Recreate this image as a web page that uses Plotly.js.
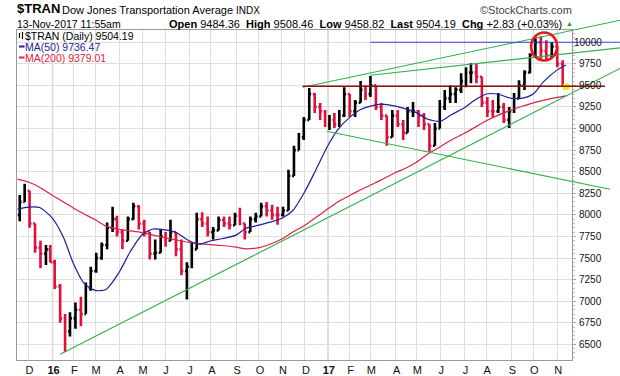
<!DOCTYPE html>
<html><head><meta charset="utf-8">
<script src="https://cdn.plot.ly/plotly-3.0.1.min.js"></script>
<style>html,body{margin:0;padding:0;background:#fff;}#chart{width:620px;height:376px;}</style>
</head><body><div id="chart"></div>
<script>
// ---------------- DATA ----------------
const weekDates = ['2015-11-18','2015-11-25','2015-12-02','2015-12-09','2015-12-16','2015-12-23','2015-12-30',
'2016-01-06','2016-01-13','2016-01-20','2016-01-27','2016-02-03','2016-02-10','2016-02-17','2016-02-24',
'2016-03-02','2016-03-09','2016-03-16','2016-03-23','2016-03-30','2016-04-06','2016-04-13','2016-04-20','2016-04-27',
'2016-05-04','2016-05-11','2016-05-18','2016-05-25','2016-06-01','2016-06-08','2016-06-15','2016-06-22','2016-06-29',
'2016-07-06','2016-07-13','2016-07-20','2016-07-27','2016-08-03','2016-08-10','2016-08-17','2016-08-24','2016-08-31',
'2016-09-07','2016-09-14','2016-09-21','2016-09-28','2016-10-05','2016-10-12','2016-10-19','2016-10-26',
'2016-11-02','2016-11-09','2016-11-16','2016-11-23','2016-11-30','2016-12-07','2016-12-14','2016-12-21','2016-12-28',
'2017-01-04','2017-01-11','2017-01-18','2017-01-25','2017-02-01','2017-02-08','2017-02-15','2017-02-22',
'2017-03-01','2017-03-08','2017-03-15','2017-03-22','2017-03-29','2017-04-05','2017-04-12','2017-04-19','2017-04-26',
'2017-05-03','2017-05-10','2017-05-17','2017-05-24','2017-05-31','2017-06-07','2017-06-14','2017-06-21','2017-06-28',
'2017-07-05','2017-07-12','2017-07-19','2017-07-26','2017-08-02','2017-08-09','2017-08-16','2017-08-23','2017-08-30',
'2017-09-06','2017-09-13','2017-09-20','2017-09-27','2017-10-04','2017-10-11','2017-10-18','2017-10-25',
'2017-11-01','2017-11-08','2017-11-13'];
const weekOpen = [8000,8150,8280,7900,7620,7550,7600,
7450,7170,6800,6650,6800,6900,6850,7150,
7350,7500,7650,7850,7950,7800,7700,7950,8100,
7900,7800,7550,7560,7750,7700,7800,7600,7350,
7400,7600,7950,7900,7800,7820,7940,7900,7880,
7990,7900,7800,7950,7980,8100,8050,8000,
8000,8050,8450,8750,8900,9100,9400,9250,9200,
9050,9100,9050,9150,9400,9200,9300,9450,
9400,9500,9250,9150,8900,9150,9050,8950,9200,
9200,9150,9050,8800,9000,9250,9350,9400,9450,
9550,9650,9650,9600,9300,9200,9200,9250,9100,
9200,9350,9500,9650,9850,10000,9900,9850,
9950,9750,9484.36];
const weekHigh = [8230,8360,8280,7900,7700,7650,7650,
7480,7200,6850,6870,6985,7050,7215,7400,
7560,7680,7910,8095,7990,7830,7980,8140,8110,
7944,7800,7713,7830,7800,7944,7800,7713,7450,
7680,8025,8030,7980,7860,7980,7980,7980,8025,
8083,7900,7980,8025,8140,8150,8117,8095,
8095,8522,8800,8949,9134,9470,9411,9295,9215,
9157,9180,9215,9480,9400,9330,9550,9500,
9610,9500,9295,9150,9215,9215,9099,9250,9307,
9215,9180,9050,9064,9330,9446,9500,9480,9640,
9711,9757,9760,9600,9365,9330,9411,9295,9250,
9411,9561,9677,9873,10058,10070,10023,10000,
9950,9792,9508.46];
const weekLow = [7925,8150,7850,7560,7380,7420,7450,
7140,6750,6410,6590,6680,6710,6850,7120,
7330,7480,7600,7800,7750,7600,7700,7944,7830,
7750,7482,7482,7560,7630,7700,7520,7300,7020,
7380,7600,7860,7750,7713,7820,7860,7830,7880,
7880,7713,7800,7910,7980,7980,7944,7886,
7980,8050,8450,8750,8868,9100,9180,9099,9018,
8984,9006,9018,9134,9134,9134,9300,9330,
9365,9215,9099,8800,8900,9018,8868,8950,9134,
9018,8984,8730,8800,9000,9215,9295,9295,9411,
9480,9526,9526,9250,9134,9134,9180,9064,9006,
9180,9350,9446,9640,9827,9792,9792,9827,
9711,9490,9458.82];
const weekClose = [8150,8280,7900,7620,7550,7600,7450,
7170,6800,6650,6800,6900,6850,7150,7350,
7500,7650,7850,7950,7800,7700,7950,8100,7900,
7800,7550,7560,7750,7700,7800,7600,7350,7400,
7600,7950,7900,7800,7820,7940,7900,7880,7990,
7900,7800,7950,7980,8100,8050,8000,8000,
8050,8450,8750,8900,9100,9400,9250,9200,9050,
9100,9050,9150,9400,9200,9300,9450,9400,
9500,9250,9150,8900,9150,9050,8950,9200,9200,
9150,9050,8800,9000,9250,9350,9400,9450,9550,
9650,9650,9600,9300,9200,9200,9250,9100,9200,
9350,9500,9650,9850,10000,9900,9850,9950,
9750,9501.36,9504.19];

const maDates = ['2015-11-16','2015-12-01','2015-12-15','2016-01-04','2016-01-19','2016-02-01','2016-02-16','2016-03-01','2016-03-15','2016-04-01','2016-04-15','2016-05-02','2016-05-16','2016-06-01','2016-06-15','2016-07-01','2016-07-15','2016-08-01','2016-08-15','2016-09-01','2016-09-15','2016-10-03','2016-10-17','2016-11-01','2016-11-15','2016-12-01','2016-12-15','2017-01-03','2017-01-17','2017-02-01','2017-02-15','2017-03-01','2017-03-15','2017-04-03','2017-04-18','2017-05-01','2017-05-15','2017-06-01','2017-06-15','2017-07-03','2017-07-17','2017-08-01','2017-08-15','2017-09-01','2017-09-15','2017-10-02','2017-10-16','2017-11-01','2017-11-13'];
const ma50 = [8067,8090,8085,7960,7740,7440,7205,7124,7135,7335,7570,7770,7836,7825,7795,7700,7660,7700,7723,7765,7845,7880,7915,7960,8050,8270,8520,8800,8985,9130,9220,9260,9284,9260,9225,9185,9110,9085,9160,9240,9325,9400,9400,9350,9350,9400,9550,9680,9736.47];
const ma200 = [8414,8380,8320,8225,8150,8080,8010,7944,7870,7832,7815,7795,7765,7735,7710,7680,7665,7655,7645,7625,7605,7620,7660,7720,7800,7880,7970,8070,8150,8225,8290,8345,8405,8490,8545,8610,8700,8790,8868,8945,9010,9090,9150,9215,9255,9298,9330,9362,9379.01];

const holidays = ['2015-11-26','2015-12-25','2016-01-01','2016-01-18','2016-02-15','2016-03-25','2016-05-30','2016-07-04','2016-09-05','2016-11-24','2016-12-26','2017-01-02','2017-01-16','2017-02-20','2017-04-14','2017-05-29','2017-07-04','2017-09-04'];
const monthTickDates = ['2015-12-01','2016-01-04','2016-02-01','2016-03-01','2016-04-01','2016-05-02','2016-06-01','2016-07-01','2016-08-01','2016-09-01','2016-10-03','2016-11-01','2016-12-01','2017-01-03','2017-02-01','2017-03-01','2017-04-03','2017-05-01','2017-06-01','2017-07-03','2017-08-01','2017-09-01','2017-10-02','2017-11-01'];
const monthTickText = ['D','<b>16</b>','F','M','A','M','J','J','A','S','O','N','D','<b>17</b>','F','M','A','M','J','J','A','S','O','N'];
const yearLineDates = ['2016-01-04','2017-01-03'];
const yTickVals = [6500,6750,7000,7250,7500,7750,8000,8250,8500,8750,9000,9250,9500,9750,10000];

// annotation lines: two anchor points each (date, value)
const trendDate0 = ['2016-01-13','2016-11-29','2017-03-01','2016-12-30'];
const trendValue0 = [6384, 9478, 9618, 8969];
const trendDate1 = ['2017-11-07','2017-11-17','2017-11-07','2017-11-07'];
const trendValue1 = [9351, 10133, 9861, 8412];
const levelDate0 = ['2016-11-29','2017-03-01'];
const levelValue = [9490, 10000];
const circleDate = '2017-10-16';
const circleValue = 9950;
const lastDate = '2017-11-13';
const lastValue = 9484;

// ---------------- LAYOUT ----------------
const W=620, H=376, ML=17, MR=48, MT=30, MB=16;
const PW=W-ML-MR, PH=H-MT-MB;
const fx = p => (p-ML)/PW;
const fy = p => 1-(p-MT)/PH;
const FONT = 'Liberation Sans, Arial, sans-serif';
const UP='#000000', DOWN='#e0103a', NAVY='#1e1e96', MARED='#dc2244', GREEN='#2fb04a';

const ann = [];
function txt(text, px, py, size, color, anchor){
  ann.push({text:text, xref:'paper', yref:'paper', x:fx(px), y:fy(py), xanchor:anchor||'left', yanchor:'middle',
    showarrow:false, borderpad:0, font:{family:FONT, size:size, color:color||'#000'}});
}
txt('<b>$TRAN</b>', 16, 9, 13);
txt('Dow Jones Transportation Average <span style="font-size:10px">INDX</span>', 61, 9.5, 11);
txt('\u00a9StockCharts.com', 573, 9.5, 11, '#444', 'right');
txt('13-Nov-2017 11:55am', 16, 24, 10.5);
txt('<b>Open</b> 9484.36  <b>High</b> 9508.46  <b>Low</b> 9458.82  <b>Last</b> 9504.19  <b>Chg</b> +2.83 (+0.03%)', 563, 24, 11, '#000', 'right');
txt('\u25B2', 574, 23.5, 7, '#2a8f3a', 'right');
txt('$TRAN (Daily) 9504.19', 24, 36, 10.5);
txt('MA(50) 9736.47', 24, 46.5, 10.5, NAVY);
txt('MA(200) 9379.01', 24, 57.5, 10.5, MARED);
yTickVals.forEach(v => ann.push({text:String(v), xref:'paper', yref:'y', x:fx(603), y:v, xanchor:'right', yanchor:'middle',
  showarrow:false, borderpad:0, font:{family:FONT, size:10, color:'#111'}}));

const baseShapes = [];
yearLineDates.forEach(d => baseShapes.push({type:'line', xref:'x', yref:'paper', x0:d, x1:d, y0:0, y1:1, layer:'between', line:{color:'#b4b4b4', width:1.3}}));
// legend background and glyphs
baseShapes.push({type:'rect', xref:'paper', yref:'paper', x0:fx(17.5), x1:fx(162), y0:fy(63), y1:fy(30.5), layer:'between', fillcolor:'#fff', line:{width:0}});
baseShapes.push({type:'line', xref:'paper', yref:'paper', x0:fx(19), x1:fx(24.5), y0:fy(46.5), y1:fy(46.5), line:{color:NAVY, width:2}});
baseShapes.push({type:'line', xref:'paper', yref:'paper', x0:fx(19), x1:fx(24.5), y0:fy(57.5), y1:fy(57.5), line:{color:MARED, width:2}});
[19.5, 22.5].forEach((gx,i) => {
  baseShapes.push({type:'line', xref:'paper', yref:'paper', x0:fx(gx), x1:fx(gx), y0:fy(i?39:38), y1:fy(i?32:33), line:{color:'#000', width:1.2}});
});

const traces = [
  {type:'scatter', mode:'markers', x:[lastDate], y:[lastValue], marker:{symbol:'square', size:6, color:'#f3e600'}, hoverinfo:'skip'},
  {type:'ohlc', x:weekDates, open:weekOpen, high:weekHigh, low:weekLow, close:weekClose, tickwidth:0.35,
   increasing:{line:{color:UP, width:2.6}}, decreasing:{line:{color:DOWN, width:2.6}}, hoverinfo:'skip'},
  {type:'scatter', mode:'lines', x:maDates, y:ma200, line:{color:MARED, width:1.2, shape:'spline', smoothing:0.7}, hoverinfo:'skip'},
  {type:'scatter', mode:'lines', x:maDates, y:ma50, line:{color:NAVY, width:1.2, shape:'spline', smoothing:0.7}, hoverinfo:'skip'}
];

const layout = {
  width:W, height:H, margin:{l:ML, r:MR, t:MT, b:MB}, paper_bgcolor:'#fff', plot_bgcolor:'#fff',
  showlegend:false, font:{family:FONT, size:11, color:'#111'},
  xaxis:{type:'date', range:['2015-11-13 12:00','2017-11-20 12:00'], rangeslider:{visible:false},
    rangebreaks:[{bounds:['sat','mon']},{values:holidays}],
    tickmode:'array', tickvals:monthTickDates, ticktext:monthTickText, ticklabelshift:1,
    showgrid:true, gridcolor:'#dedede', gridwidth:1, ticks:'', showline:true, mirror:true, linecolor:'#9a9a9a', linewidth:1,
    tickfont:{family:FONT, size:11, color:'#111'}, zeroline:false, fixedrange:true},
  yaxis:{range:[6318,10142], side:'right', tickmode:'array', tickvals:yTickVals, showticklabels:false,
    showgrid:true, gridcolor:'#dedede', ticks:'outside', ticklen:3, tickcolor:'#aaa',
    minor:{ticks:'outside', ticklen:2, dtick:50, tickcolor:'#c0c0c0', showgrid:false},
    showline:true, mirror:true, linecolor:'#9a9a9a', zeroline:false, fixedrange:true},
  annotations:ann, shapes:baseShapes
};

const gd = document.getElementById('chart');
Plotly.newPlot(gd, traces, layout, {staticPlot:true, displayModeBar:false}).then(function(){
  const xa = gd._fullLayout.xaxis, ya = gd._fullLayout.yaxis;
  const X = d => xa._offset + xa.l2p(xa.d2l(d));
  const Y = v => ya._offset + ya.l2p(v);
  const extra = [];
  const trendEnd = [620, 620, 620, 610];
  for (let i=0;i<trendDate0.length;i++){
    const x0=X(trendDate0[i]), y0=Y(trendValue0[i]), x1=X(trendDate1[i]), y1=Y(trendValue1[i]);
    const xe=trendEnd[i], ye=y0+(y1-y0)*(xe-x0)/(x1-x0);
    extra.push({type:'line', xref:'paper', yref:'paper', x0:fx(x0), y0:fy(y0), x1:fx(xe), y1:fy(ye), layer:'above', line:{color:GREEN, width:1.1}});
  }
  const levelEnd = [605, 620], levelColor = ['#8b1010', '#3344cc'], levelWidth=[1.6, 1.2];
  for (let i=0;i<levelDate0.length;i++){
    const x0=X(levelDate0[i]), y0=Y(levelValue[i]);
    extra.push({type:'line', xref:'paper', yref:'paper', x0:fx(x0), y0:fy(y0), x1:fx(levelEnd[i]), y1:fy(y0), layer:'above', line:{color:levelColor[i], width:levelWidth[i]}});
  }
  const cx=X(circleDate), cy=Y(circleValue);
  extra.push({type:'circle', xref:'paper', yref:'paper', x0:fx(cx-13), x1:fx(cx+13), y0:fy(cy+14), y1:fy(cy-14), layer:'above', line:{color:'#e31a1c', width:2.6}});
  return Plotly.relayout(gd, {shapes: baseShapes.concat(extra)});
});
</script>
</body></html>
